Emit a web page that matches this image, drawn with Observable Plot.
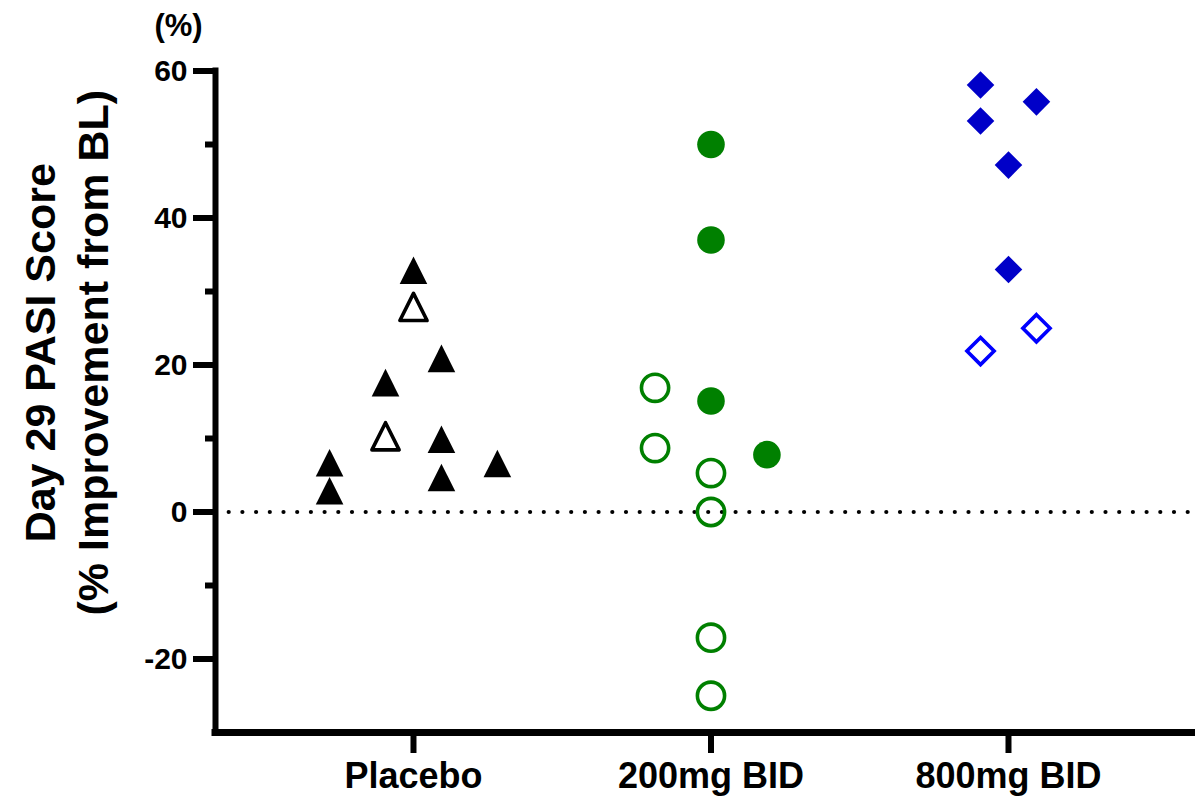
<!DOCTYPE html>
<html><head><meta charset="utf-8">
<script src="https://cdn.jsdelivr.net/npm/d3@7"></script>
<script src="https://cdn.jsdelivr.net/npm/@observablehq/plot@0.6"></script>
<style>body{margin:0;background:#fff;} svg{display:block;}</style>
</head><body><div id="chart"></div>
<script>
// ---- data ----
const groups = ["Placebo", "200mg BID", "800mg BID"];
const yTicks = [-20, 0, 20, 40, 60];
const yMinorTicks = [-10, 10, 30, 50];
const yLabel = "(%)";
const yTitle = "Day 29 PASI Score\n(% Improvement from BL)";

const placeboValues = [32.9, 27.9, 20.9, 17.6, 10.3, 9.9, 4.7, 6.7, 2.9, 6.6];
const placeboSlots  = [0, 0, 1, -1, -1, 1, 1, -3, -3, 3];
const placeboFilled = [true, false, true, true, false, true, true, true, true, true];

const mg200Values = [50.0, 37.0, 15.1, 7.8, 16.9, 8.7, 5.3, 0, -17.1, -25.0];
const mg200Slots  = [0, 0, 0, 2, -2, -2, 0, 0, 0, 0];
const mg200Filled = [true, true, true, true, false, false, false, false, false, false];

const mg800Values = [58.1, 55.8, 53.2, 47.2, 33.0, 25.0, 21.9];
const mg800Slots  = [-1, 1, -1, 0, 0, 1, -1];
const mg800Filled = [true, true, true, true, true, false, false];

// ---- table ----
const rows = [];
function addGroup(gi, values, slots, filled) {
  values.forEach((v, i) => rows.push({gi, group: groups[gi], slot: slots[i], value: v, filled: filled[i]}));
}
addGroup(0, placeboValues, placeboSlots, placeboFilled);
addGroup(1, mg200Values, mg200Slots, mg200Filled);
addGroup(2, mg800Values, mg800Slots, mg800Filled);

// ---- symbols ----
const triangle = {draw(ctx, size) { const r = Math.sqrt(size / Math.PI);
  ctx.moveTo(0, -r); ctx.lineTo(r, r); ctx.lineTo(-r, r); ctx.closePath(); }};
const diamond = {draw(ctx, size) { const r = Math.sqrt(size / Math.PI);
  ctx.moveTo(0, -r); ctx.lineTo(r, 0); ctx.lineTo(0, r); ctx.lineTo(-r, 0); ctx.closePath(); }};
const symbols = [triangle, "circle", diamond];
const fillColors = ["#000000", "#008000", "#0000c8"];
const strokeColors = ["#000000", "#008000", "#0000ff"];
const joins = ["round", "round", "miter"];

const slotStep = 0.094;
const X = d => d.gi + d.slot * slotStep;
const xDomain = [-0.6655, 2.6286];

const dotMarks = [];
for (let g = 0; g < 3; g++) {
  dotMarks.push(Plot.dot(rows.filter(d => d.gi === g && d.filled), {
    x: X, y: "value", symbol: symbols[g], r: 13.8, fill: fillColors[g], stroke: "none"
  }));
  dotMarks.push(Plot.dot(rows.filter(d => d.gi === g && !d.filled), {
    x: X, y: "value", symbol: symbols[g], r: 13.6, fill: "none", stroke: strokeColors[g],
    strokeWidth: 3.6, strokeLinejoin: joins[g]
  }));
}

const chart = Plot.plot({
  width: 1195,
  height: 801,
  marginLeft: 215,
  marginRight: 0,
  marginTop: 70.5,
  marginBottom: 69,
  style: {fontFamily: "'Liberation Sans', Arial, sans-serif", overflow: "visible", background: "#fff"},
  x: {type: "linear", domain: xDomain, axis: null},
  y: {domain: [-30, 60], axis: null},
  marks: [
    Plot.ruleY([0], {stroke: "#000", strokeWidth: 4.2, strokeDasharray: "0,13.7", strokeLinecap: "round"}),
    ...dotMarks,
    Plot.axisY({ticks: yMinorTicks, tickSize: 10, strokeWidth: 6, tickFormat: () => "", label: null}),
    Plot.axisY({ticks: yTicks, tickSize: 22, tickPadding: 6, strokeWidth: 6, tickFormat: d => String(d),
      fontSize: 30, fontWeight: "bold", label: null}),
    Plot.axisX({ticks: [0, 1, 2], tickSize: 21, tickPadding: 9, strokeWidth: 6, tickFormat: i => groups[i],
      fontSize: 36, fontWeight: "bold", label: null}),
    Plot.ruleX([xDomain[0]], {y1: -30, y2: 60, strokeWidth: 6, strokeLinecap: "square"}),
    Plot.ruleY([-30], {strokeWidth: 7, strokeLinecap: "square"}),
    Plot.text([yLabel], {text: d => d, frameAnchor: "top-left", dx: -37, dy: -45, fontSize: 31,
      fontWeight: "bold", textAnchor: "middle", lineAnchor: "middle"}),
    Plot.text([yTitle], {text: d => d, frameAnchor: "left", rotate: -90, dx: -151, dy: -49, fontSize: 43,
      fontWeight: "bold", lineHeight: 1.24, textAnchor: "middle", lineAnchor: "middle"})
  ]
});
document.getElementById("chart").appendChild(chart);
</script>
</body></html>
